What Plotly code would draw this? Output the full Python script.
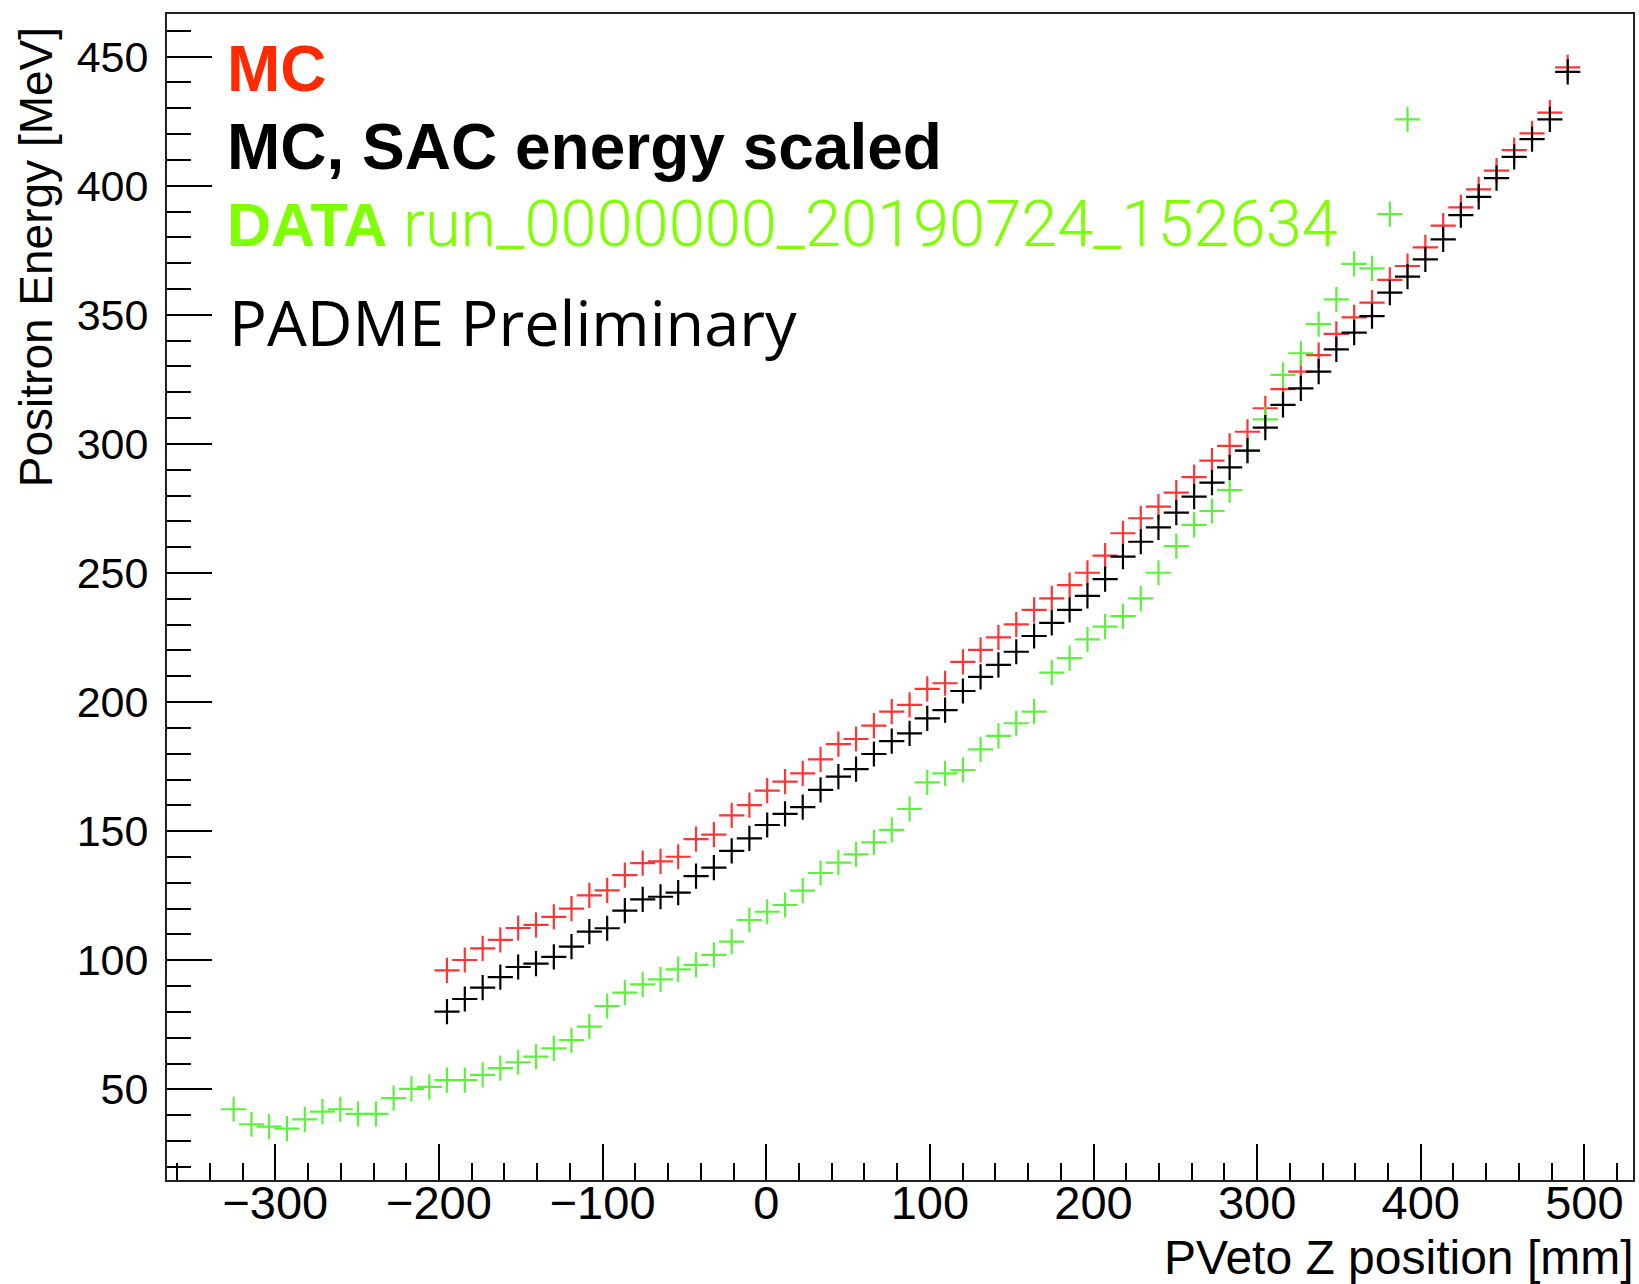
import plotly.graph_objects as go

# ---------------- data ----------------
# bin centres of PVeto Z position [mm]
z_data = [-325.5, -314.6, -303.8, -292.9, -282.0, -271.2, -260.3, -249.4, -238.5, -227.7,
          -216.8, -205.9, -195.1, -184.2, -173.3, -162.5, -151.6, -140.7, -129.8, -119.0,
          -108.1, -97.2, -86.4, -75.5, -64.6, -53.8, -42.9, -32.0, -21.1, -10.3,
          0.6, 11.5, 22.3, 33.2, 44.1, 54.9, 65.8, 76.7, 87.6, 98.4,
          109.3, 120.2, 131.0, 141.9, 152.8, 163.7, 174.5, 185.4, 196.3, 207.1,
          218.0, 228.9, 239.7, 250.6, 261.5, 272.4, 283.2, 294.1, 305.0, 315.8,
          326.7, 337.6, 348.4, 359.3, 370.2, 381.1, 391.9]
e_data = [42.3, 36.5, 35.6, 34.8, 38.4, 41.4, 42.3, 40.5, 40.5, 46.6,
          50.2, 51.0, 53.6, 53.6, 55.6, 58.2, 60.5, 62.7, 65.9, 69.1,
          74.3, 82.3, 87.5, 90.7, 92.6, 96.5, 98.2, 102.1, 107.2, 115.6,
          118.8, 121.4, 127.0, 133.8, 137.8, 141.0, 145.7, 150.5, 158.6, 168.9,
          172.4, 173.7, 181.7, 186.9, 191.8, 196.3, 211.4, 217.0, 224.3, 229.2,
          233.3, 240.2, 250.1, 260.4, 268.6, 274.0, 282.1, 297.4, 309.5, 326.7,
          335.1, 346.4, 356.0, 369.7, 368.0, 389.0, 425.7]

z_mc = [-195.1, -184.2, -173.3, -162.5, -151.6, -140.7, -129.8, -119.0,
        -108.1, -97.2, -86.4, -75.5, -64.6, -53.8, -42.9, -32.0, -21.1, -10.3,
        0.6, 11.5, 22.3, 33.2, 44.1, 54.9, 65.8, 76.7, 87.6, 98.4,
        109.3, 120.2, 131.0, 141.9, 152.8, 163.7, 174.5, 185.4, 196.3, 207.1,
        218.0, 228.9, 239.7, 250.6, 261.5, 272.4, 283.2, 294.1, 305.0, 315.8,
        326.7, 337.6, 348.4, 359.3, 370.2, 381.1, 391.9, 402.8, 413.7, 424.5,
        435.4, 446.3, 457.1, 468.0, 478.9, 489.8]
e_mc = [96.1, 100.1, 104.6, 107.9, 112.5, 113.7, 116.8, 120.0,
        125.1, 127.1, 133.0, 137.6, 138.3, 140.1, 146.9, 148.7, 156.1, 160.1,
        165.7, 169.2, 172.4, 177.8, 183.7, 185.7, 190.9, 196.3, 198.9, 205.1,
        207.3, 215.6, 220.2, 225.1, 230.1, 235.7, 240.2, 245.3, 250.1, 256.7,
        265.4, 271.2, 275.7, 281.1, 287.1, 293.5, 299.2, 304.7, 313.8, 321.2,
        328.0, 334.4, 342.6, 349.0, 354.7, 363.5, 368.9, 376.1, 384.5, 391.6,
        398.6, 405.8, 413.8, 420.3, 428.3, 445.8]
e_mc_scaled = [80.1, 85.0, 89.4, 93.5, 97.4, 98.7, 101.3, 105.3,
               111.1, 112.4, 119.2, 123.6, 124.6, 126.2, 132.6, 135.9, 142.4, 147.2,
               152.4, 156.7, 159.3, 166.0, 171.1, 174.0, 179.9, 184.9, 187.9, 193.7,
               196.9, 204.3, 209.8, 214.4, 219.5, 225.6, 230.7, 235.7, 241.1, 247.6,
               256.3, 262.1, 267.7, 273.4, 279.6, 285.0, 290.9, 297.4, 306.3, 315.1,
               321.5, 328.0, 336.6, 343.1, 349.5, 358.6, 364.8, 371.5, 379.2, 388.6,
               395.7, 402.9, 411.2, 418.0, 425.7, 444.1]

x_ticks = [-300, -200, -100, 0, 100, 200, 300, 400, 500]
y_ticks = [50, 100, 150, 200, 250, 300, 350, 400, 450]
x_range = [-366.2, 529.7]
y_range = [14.9, 466.5]

# ---------------- layout geometry ----------------
W, H = 1639, 1284
L, R, T, B = 167, 4, 14, 104
PW, PH = W - L - R, H - T - B


def pxx(px):
    return (px - L) / PW


def pxy(py):
    return (H - B - py) / PH


RED_M = "#ff3535"
BLACK_M = "#000000"
GREEN_M = "#5cf23c"


def cross_trace(x, y, color, name):
    return go.Scatter(
        x=x, y=y, mode="markers", name=name,
        marker=dict(symbol="cross-thin", size=18, color=color,
                    line=dict(color=color, width=2.2)),
        showlegend=False, hoverinfo="x+y",
    )


fig = go.Figure()
fig.add_trace(cross_trace(z_mc, e_mc, RED_M, "MC"))
fig.add_trace(cross_trace(z_data, e_data, GREEN_M, "DATA"))
fig.add_trace(cross_trace(z_mc, e_mc_scaled, BLACK_M, "MC, SAC energy scaled"))

label_font = "Liberation Sans, Arial, Helvetica, sans-serif"

fig.update_layout(
    width=W, height=H,
    margin=dict(l=L, r=R, t=T, b=B, pad=0),
    paper_bgcolor="white", plot_bgcolor="white",
    xaxis=dict(
        range=x_range, tickvals=x_ticks, ticktext=[("\u2212" + str(-v)) if v < 0 else str(v) for v in x_ticks],
        ticks="inside", ticklen=36, tickwidth=2, tickcolor="black",
        minor=dict(dtick=20, tick0=0, ticks="inside", ticklen=17, tickwidth=2, tickcolor="black", showgrid=False),
        showline=True, linewidth=2, linecolor="#222", mirror=True,
        showgrid=False, zeroline=False,
        tickfont=dict(family=label_font, size=47, color="black"),
        ticklabelstandoff=-19,
    ),
    yaxis=dict(
        range=y_range, tickvals=y_ticks,
        ticks="inside", ticklen=45, tickwidth=2, tickcolor="black",
        minor=dict(dtick=10, tick0=0, ticks="inside", ticklen=24, tickwidth=2, tickcolor="black", showgrid=False),
        showline=True, linewidth=2, linecolor="#222", mirror=True,
        showgrid=False, zeroline=False,
        tickfont=dict(family=label_font, size=43, color="black"),
        ticklabelstandoff=8,
    ),
)

ann = []
# legend-like texts
ann.append(dict(text="<b>MC</b>", x=pxx(225), y=pxy(107), xanchor="left", yanchor="bottom",
                font=dict(family=label_font, size=64, color="#ff2a00")))
ann.append(dict(text="<b>MC, SAC energy scaled</b>", x=pxx(225), y=pxy(185), xanchor="left", yanchor="bottom",
                font=dict(family=label_font, size=64, color="black")))
ann.append(dict(text="<b>DATA</b>", x=pxx(225), y=pxy(261), xanchor="left", yanchor="bottom",
                font=dict(family=label_font, size=61, color="#7fff00")))
ann.append(dict(text="run_0000000_20190724_152634", x=pxx(401), y=pxy(264), xanchor="left", yanchor="bottom",
                font=dict(family="Roboto", size=65, color="#7fff00", weight=300)))
ann.append(dict(text="PADME Preliminary", x=pxx(227), y=pxy(366), xanchor="left", yanchor="bottom",
                font=dict(family="Open Sans", size=63, color="black")))
# axis titles
ann.append(dict(text="Positron Energy [MeV]", x=pxx(36), y=pxy(25), xanchor="center", yanchor="top",
                textangle=-90, font=dict(family=label_font, size=46, color="black")))
ann.append(dict(text="PVeto Z position [mm]", x=pxx(1638), y=pxy(1286), xanchor="right", yanchor="bottom",
                font=dict(family=label_font, size=48, color="black")))

for a in ann:
    a.update(xref="paper", yref="paper", showarrow=False)
fig.update_layout(annotations=ann)

fig.write_html("out.html")
